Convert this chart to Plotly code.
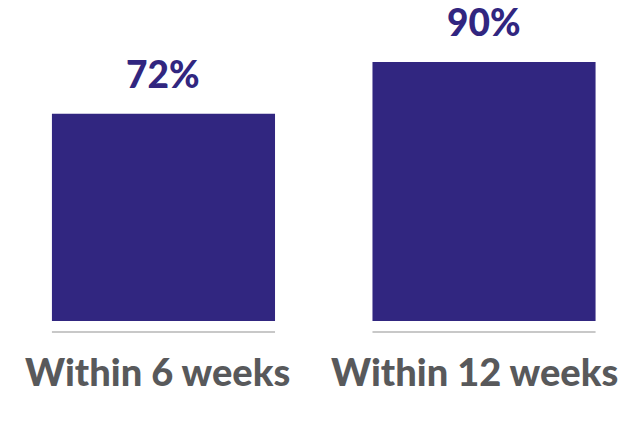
import plotly.graph_objects as go

categories = ["Within 6 weeks", "Within 12 weeks"]
values = [72, 90]
value_labels = ["72%", "90%"]

PURPLE = "#312680"
GREY_TEXT = "#58595b"
FONT = "Lato, 'Open Sans', sans-serif"
BAR_W = 0.696

xs = list(range(len(categories)))

fig = go.Figure()
fig.add_trace(go.Bar(
    x=xs, y=values, width=BAR_W,
    marker=dict(color=PURPLE, line=dict(width=0)),
    hoverinfo="skip",
))

shapes = []
annotations = []
for i, cat, v, lab in zip(xs, categories, values, value_labels):
    shapes.append(dict(type="line", xref="x", yref="paper",
                       x0=i - BAR_W / 2, x1=i + BAR_W / 2, y0=-0.034, y1=-0.034,
                       line=dict(color="#c8c8c8", width=2)))
    annotations.append(dict(x=i, y=v, xref="x", yref="y", text=lab,
                            showarrow=False, yanchor="bottom", yshift=16,
                            font=dict(family=FONT, size=37, color=PURPLE, weight=900)))
    annotations.append(dict(x=i, y=0, xref="x", yref="paper", text=cat,
                            showarrow=False, yanchor="middle", yshift=-50,
                            xshift=-10 if i == 1 else -6,
                            font=dict(family=FONT, size=38, color=GREY_TEXT, weight=900)))

fig.update_layout(
    width=618, height=426,
    margin=dict(l=0, r=0, t=0, b=105),
    plot_bgcolor="white", paper_bgcolor="white",
    showlegend=False,
    xaxis=dict(range=[-0.51, 1.418], visible=False),
    yaxis=dict(range=[0, 111.5], visible=False),
    shapes=shapes, annotations=annotations,
)

fig.write_html("out.html")
